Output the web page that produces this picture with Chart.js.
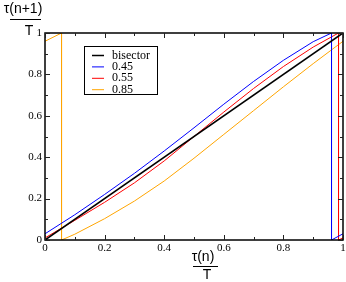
<!DOCTYPE html>
<html>
<head>
<meta charset="utf-8">
<script src="https://cdn.jsdelivr.net/npm/chart.js@4.4.1/dist/chart.umd.min.js"></script>
<style>
  html, body { margin: 0; padding: 0; background: #fff; }
  #wrap { width: 346px; height: 282px; }
</style>
</head>
<body>
<div id="wrap"><canvas id="mapChart"></canvas></div>
<script>
// series labels
const seriesLabels = ['bisector', '0.45', '0.55', '0.85'];
const seriesColors = ['#000000', '#0000ff', '#ff0000', '#ffa500'];

// bisector
const xBis = [0, 1];
const yBis = [0, 1];

// 0.45 (wraps at ~0.9615)
const x045 = [0, 0.1, 0.2, 0.3, 0.4, 0.5, 0.6, 0.7, 0.8, 0.9, 0.9615, 0.9615, 1];
const y045 = [0.03, 0.122, 0.22, 0.322, 0.43, 0.542, 0.656, 0.766, 0.868, 0.958, 1, 0, 0.03];

// 0.55 (wraps at ~0.985)
const x055 = [0, 0.1, 0.2, 0.3, 0.4, 0.5, 0.6, 0.7, 0.8, 0.9, 0.985, 0.985, 1];
const y055 = [0.01, 0.095, 0.182, 0.276, 0.382, 0.5, 0.618, 0.732, 0.838, 0.932, 1, 0, 0.01];

// 0.85 (wraps at ~0.0555)
const x085 = [0, 0.0555, 0.0555, 0.1, 0.2, 0.3, 0.4, 0.5, 0.6, 0.7, 0.8, 0.9, 1];
const y085 = [0.96, 1, 0, 0.028, 0.103, 0.188, 0.285, 0.395, 0.51, 0.625, 0.74, 0.852, 0.96];

// axis ticks
const tickValues = [0, 0.2, 0.4, 0.6, 0.8, 1];
const tickLabels = ['0', '0.2', '0.4', '0.6', '0.8', '1'];
const minorStep = 0.1;

function pts(xs, ys) {
    return xs.map((x, i) => ({ x: x, y: ys[i] }));
}

function tickText(v) {
    const i = tickValues.findIndex(t => Math.abs(t - v) < 1e-6);
    return i >= 0 ? tickLabels[i] : '';
}

const allX = [xBis, x045, x055, x085];
const allY = [yBis, y045, y055, y085];

// Kutu, tikler, eksen başlıkları ve lejant
const framePlugin = {
    id: 'frame',
    afterDraw(chart) {
        const ctx = chart.ctx;
        const a = chart.chartArea;
        const xs = chart.scales.x;
        const ys = chart.scales.y;
        ctx.save();

        // box
        ctx.strokeStyle = '#000';
        ctx.lineWidth = 1.5;
        ctx.strokeRect(a.left, a.top, a.right - a.left, a.bottom - a.top);

        // inward ticks on all sides
        ctx.lineWidth = 1;
        ctx.strokeStyle = '#222';
        for (let i = 0; i <= 10; i++) {
            const v = i * minorStep;
            const len = (i % 2 === 0) ? 5 : 3;
            const px = Math.round(xs.getPixelForValue(v)) + 0.5;
            const py = Math.round(ys.getPixelForValue(v)) + 0.5;
            ctx.beginPath();
            ctx.moveTo(px, a.bottom); ctx.lineTo(px, a.bottom - len);
            ctx.moveTo(px, a.top); ctx.lineTo(px, a.top + len);
            ctx.moveTo(a.left, py); ctx.lineTo(a.left + len, py);
            ctx.moveTo(a.right, py); ctx.lineTo(a.right - len, py);
            ctx.stroke();
        }

        // axis titles (fraction style)
        ctx.fillStyle = '#000';
        ctx.font = '14px "Liberation Sans", Arial, sans-serif';
        ctx.textAlign = 'center';
        ctx.textBaseline = 'middle';
        ctx.fillText('τ(n+1)', 23, 9);
        ctx.fillText('T', 29, 31);
        ctx.fillText('τ(n)', 203, 257);
        ctx.fillText('T', 207, 275);
        ctx.lineWidth = 1;
        ctx.strokeStyle = '#000';
        ctx.beginPath();
        ctx.moveTo(10, 19.5); ctx.lineTo(41, 19.5);
        ctx.moveTo(193, 266.5); ctx.lineTo(218, 266.5);
        ctx.stroke();

        // legend
        const lx = 84, ly = 46, lw = 73, lh = 48;
        ctx.fillStyle = '#fff';
        ctx.fillRect(lx, ly, lw, lh);
        ctx.strokeStyle = '#000';
        ctx.strokeRect(lx + 0.5, ly + 0.5, lw, lh);
        ctx.font = '12px "Liberation Serif", "Times New Roman", serif';
        ctx.textAlign = 'left';
        chart.data.datasets.forEach((ds, i) => {
            const yy = 55.5 + i * 11.4;
            ctx.strokeStyle = ds.borderColor;
            ctx.lineWidth = i === 0 ? 1.5 : 1;
            ctx.beginPath();
            ctx.moveTo(92, yy); ctx.lineTo(104, yy);
            ctx.stroke();
            ctx.fillStyle = '#000';
            ctx.fillText(ds.label, 112, yy);
        });

        ctx.restore();
    }
};

const tickFont = { family: '"Liberation Serif", "Times New Roman", serif', size: 11 };

new Chart(document.getElementById('mapChart'), {
    type: 'scatter',
    data: {
        datasets: seriesLabels.map((label, i) => ({
            label: label,
            data: pts(allX[i], allY[i]),
            showLine: true,
            borderColor: seriesColors[i],
            backgroundColor: seriesColors[i],
            borderWidth: i === 0 ? 1.6 : 1,
            pointRadius: 0,
            tension: 0,
            order: i === 0 ? 0 : i
        }))
    },
    options: {
        responsive: true,
        maintainAspectRatio: false,
        animation: false,
        events: [],
        layout: { padding: { left: 0, top: 33, right: 3, bottom: 0 } },
        plugins: {
            legend: { display: false },
            tooltip: { enabled: false }
        },
        scales: {
            x: {
                type: 'linear',
                min: 0, max: 1,
                grid: { display: false, drawTicks: false },
                border: { display: false },
                ticks: { stepSize: 0.2, color: '#000', font: tickFont, padding: 2, maxRotation: 0, callback: tickText },
                afterFit(scale) {
                    scale.height = 42;
                    scale.paddingLeft = 0;
                    scale.paddingRight = 0;
                }
            },
            y: {
                type: 'linear',
                min: 0, max: 1,
                grid: { display: false, drawTicks: false },
                border: { display: false },
                ticks: { stepSize: 0.2, color: '#000', font: tickFont, padding: 3, callback: tickText },
                afterFit(scale) {
                    scale.width = 45;
                    scale.paddingTop = 0;
                    scale.paddingBottom = 0;
                }
            }
        }
    },
    plugins: [framePlugin]
});
</script>
</body>
</html>
